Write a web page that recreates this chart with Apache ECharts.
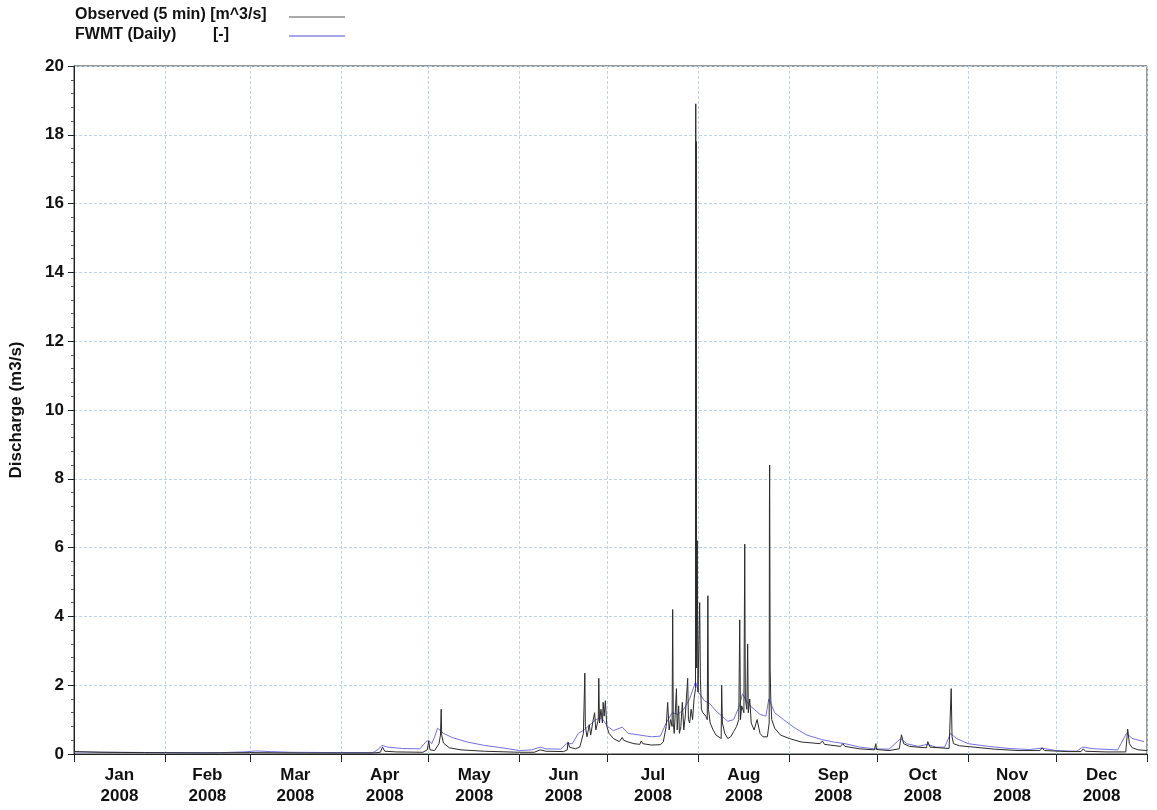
<!DOCTYPE html>
<html>
<head>
<meta charset="utf-8">
<script src="https://cdn.jsdelivr.net/npm/echarts@6/dist/echarts.min.js"></script>
<style>
  html, body { margin: 0; padding: 0; background: #fff; }
  #chart { width: 1157px; height: 810px; }
</style>
</head>
<body>
<div id="chart"></div>
<script>
// Discharge record for 2008: 5-minute observations and the daily FWMT model
const monthNames = ['Jan', 'Feb', 'Mar', 'Apr', 'May', 'Jun', 'Jul', 'Aug', 'Sep', 'Oct', 'Nov', 'Dec'];
const yearLabel = '2008';
const yTicks = [0, 2, 4, 6, 8, 10, 12, 14, 16, 18, 20];

// Observed (5 min) [m^3/s]
const obsTimes = [
  '2008-01-01 00:00', '2008-01-10 00:00', '2008-01-25 00:00', '2008-02-15 00:00', '2008-03-01 00:00',
  '2008-03-20 00:00', '2008-04-12 00:00', '2008-04-14 12:00', '2008-04-15 06:00', '2008-04-16 00:00',
  '2008-04-20 00:00', '2008-04-29 00:00', '2008-04-30 12:00', '2008-05-01 00:00', '2008-05-01 10:00',
  '2008-05-03 00:00', '2008-05-04 12:00', '2008-05-05 00:00', '2008-05-05 06:00', '2008-05-05 10:00',
  '2008-05-06 00:00', '2008-05-08 00:00', '2008-05-12 00:00', '2008-05-20 00:00', '2008-06-01 00:00',
  '2008-06-06 00:00', '2008-06-08 00:00', '2008-06-10 00:00', '2008-06-16 00:00', '2008-06-17 06:00',
  '2008-06-17 12:00', '2008-06-18 00:00', '2008-06-20 00:00', '2008-06-21 12:00', '2008-06-22 00:00',
  '2008-06-22 18:00', '2008-06-23 03:00', '2008-06-23 06:00', '2008-06-23 10:00', '2008-06-24 00:00',
  '2008-06-24 18:00', '2008-06-25 06:00', '2008-06-26 00:00', '2008-06-26 14:00', '2008-06-27 00:00',
  '2008-06-27 20:00', '2008-06-28 00:00', '2008-06-28 06:00', '2008-06-28 18:00', '2008-06-29 06:00',
  '2008-06-29 12:00', '2008-06-29 20:00', '2008-06-30 06:00', '2008-06-30 18:00', '2008-07-01 12:00',
  '2008-07-03 00:00', '2008-07-05 00:00', '2008-07-06 00:00', '2008-07-06 12:00', '2008-07-08 00:00',
  '2008-07-10 00:00', '2008-07-12 00:00', '2008-07-12 12:00', '2008-07-13 00:00', '2008-07-16 00:00',
  '2008-07-19 00:00', '2008-07-20 00:00', '2008-07-21 00:00', '2008-07-21 12:00', '2008-07-22 00:00',
  '2008-07-22 12:00', '2008-07-23 00:00', '2008-07-23 05:00', '2008-07-23 10:00', '2008-07-23 18:00',
  '2008-07-24 12:00', '2008-07-24 18:00', '2008-07-25 06:00', '2008-07-25 12:00', '2008-07-26 00:00',
  '2008-07-26 12:00', '2008-07-27 00:00', '2008-07-27 12:00', '2008-07-28 08:00', '2008-07-28 14:00',
  '2008-07-29 00:00', '2008-07-29 12:00', '2008-07-30 00:00', '2008-07-30 12:00', '2008-07-31 00:00',
  '2008-07-31 02:00', '2008-07-31 04:00', '2008-07-31 06:00', '2008-07-31 09:00', '2008-07-31 14:00',
  '2008-07-31 20:00', '2008-08-01 10:00', '2008-08-01 16:00', '2008-08-02 00:00', '2008-08-02 12:00',
  '2008-08-03 12:00', '2008-08-04 00:00', '2008-08-04 05:00', '2008-08-04 10:00', '2008-08-05 00:00',
  '2008-08-06 00:00', '2008-08-07 00:00', '2008-08-08 18:00', '2008-08-08 22:00', '2008-08-09 04:00',
  '2008-08-10 00:00', '2008-08-11 00:00', '2008-08-12 00:00', '2008-08-13 00:00', '2008-08-14 00:00',
  '2008-08-14 18:00', '2008-08-15 02:00', '2008-08-15 08:00', '2008-08-15 18:00', '2008-08-16 12:00',
  '2008-08-16 19:00', '2008-08-17 00:00', '2008-08-17 12:00', '2008-08-17 19:00', '2008-08-18 00:00',
  '2008-08-18 12:00', '2008-08-19 00:00', '2008-08-20 00:00', '2008-08-21 00:00', '2008-08-22 00:00',
  '2008-08-23 00:00', '2008-08-24 12:00', '2008-08-25 03:00', '2008-08-25 05:00', '2008-08-25 07:00',
  '2008-08-25 11:00', '2008-08-25 16:00', '2008-08-26 00:00', '2008-08-27 00:00', '2008-08-29 00:00',
  '2008-09-01 00:00', '2008-09-05 00:00', '2008-09-11 12:00', '2008-09-12 06:00', '2008-09-13 00:00',
  '2008-09-18 12:00', '2008-09-19 06:00', '2008-09-20 00:00', '2008-09-25 00:00', '2008-09-30 00:00',
  '2008-09-30 12:00', '2008-09-30 18:00', '2008-10-05 00:00', '2008-10-08 12:00', '2008-10-09 06:00',
  '2008-10-10 00:00', '2008-10-12 00:00', '2008-10-17 18:00', '2008-10-18 06:00', '2008-10-19 00:00',
  '2008-10-25 12:00', '2008-10-26 05:00', '2008-10-26 12:00', '2008-10-27 00:00', '2008-10-29 00:00',
  '2008-11-03 00:00', '2008-11-10 00:00', '2008-11-18 00:00', '2008-11-25 12:00', '2008-11-26 06:00',
  '2008-11-27 00:00', '2008-12-05 00:00', '2008-12-09 12:00', '2008-12-10 06:00', '2008-12-11 00:00',
  '2008-12-18 00:00', '2008-12-24 18:00', '2008-12-25 10:00', '2008-12-26 00:00', '2008-12-27 00:00',
  '2008-12-29 00:00', '2008-12-31 23:00'
];
const obsValues = [
  0.07, 0.05, 0.04, 0.03, 0.04,
  0.03, 0.03, 0.05, 0.20, 0.08,
  0.06, 0.05, 0.12, 0.38, 0.12,
  0.10, 0.30, 0.55, 1.30, 0.55,
  0.32, 0.18, 0.12, 0.08, 0.05,
  0.05, 0.12, 0.08, 0.07, 0.12,
  0.35, 0.20, 0.15, 0.20, 0.35,
  0.60, 0.55, 2.35, 0.80, 0.50,
  0.85, 0.55, 0.95, 1.20, 0.70,
  1.00, 2.20, 0.90, 1.30, 0.90,
  1.50, 1.10, 1.55, 0.80, 0.60,
  0.45, 0.36, 0.48, 0.40, 0.35,
  0.30, 0.28, 0.38, 0.30, 0.26,
  0.27, 0.35, 0.80, 1.50, 0.70,
  1.00, 0.80, 4.20, 0.90, 0.60,
  1.90, 0.70, 1.40, 0.60, 0.80,
  1.50, 0.70, 1.10, 2.20, 1.00,
  0.90, 1.30, 1.00, 1.60, 1.90,
  18.90, 3.00, 17.80, 2.50, 6.20,
  1.80, 4.40, 2.20, 1.30, 1.20,
  1.10, 1.00, 4.60, 1.30, 0.90,
  0.70, 0.55, 0.45, 2.00, 0.90,
  0.60, 0.45, 0.50, 0.65, 0.80,
  1.00, 3.90, 1.00, 1.40, 1.20,
  6.10, 1.60, 1.30, 3.20, 1.20,
  1.60, 0.90, 0.70, 1.00, 0.60,
  0.50, 0.50, 0.90, 7.20, 8.40,
  2.50, 1.60, 1.00, 0.75, 0.55,
  0.45, 0.35, 0.30, 0.38, 0.28,
  0.22, 0.30, 0.22, 0.15, 0.12,
  0.30, 0.13, 0.10, 0.15, 0.56,
  0.30, 0.22, 0.18, 0.36, 0.20,
  0.16, 1.90, 0.50, 0.30, 0.24,
  0.20, 0.14, 0.10, 0.10, 0.18,
  0.10, 0.07, 0.07, 0.15, 0.08,
  0.06, 0.06, 0.72, 0.30, 0.18,
  0.12, 0.10
];

// FWMT (Daily) [-]
const fwmtDates = [
  '2008-01-01', '2008-01-15', '2008-02-01', '2008-02-20', '2008-02-28', '2008-03-03', '2008-03-08',
  '2008-03-15', '2008-04-01', '2008-04-12', '2008-04-14', '2008-04-15', '2008-04-17', '2008-04-22',
  '2008-04-28', '2008-04-30', '2008-05-01', '2008-05-02', '2008-05-03', '2008-05-04', '2008-05-06',
  '2008-05-09', '2008-05-14', '2008-05-20', '2008-05-26', '2008-06-01', '2008-06-05', '2008-06-08',
  '2008-06-10', '2008-06-15', '2008-06-17', '2008-06-19', '2008-06-21', '2008-06-23', '2008-06-25',
  '2008-06-27', '2008-06-29', '2008-07-01', '2008-07-03', '2008-07-06', '2008-07-08', '2008-07-12',
  '2008-07-16', '2008-07-19', '2008-07-21', '2008-07-23', '2008-07-25', '2008-07-27', '2008-07-29',
  '2008-07-31', '2008-08-01', '2008-08-03', '2008-08-05', '2008-08-07', '2008-08-09', '2008-08-11',
  '2008-08-13', '2008-08-15', '2008-08-16', '2008-08-18', '2008-08-20', '2008-08-22', '2008-08-24',
  '2008-08-25', '2008-08-27', '2008-08-30', '2008-09-03', '2008-09-07', '2008-09-12', '2008-09-16',
  '2008-09-20', '2008-09-25', '2008-09-30', '2008-10-05', '2008-10-09', '2008-10-11', '2008-10-15',
  '2008-10-18', '2008-10-21', '2008-10-24', '2008-10-26', '2008-10-28', '2008-11-01', '2008-11-08',
  '2008-11-15', '2008-11-22', '2008-11-26', '2008-12-01', '2008-12-08', '2008-12-10', '2008-12-14',
  '2008-12-22', '2008-12-25', '2008-12-27', '2008-12-31'
];
const fwmtValues = [
  0.06, 0.05, 0.04, 0.04, 0.06, 0.09, 0.07,
  0.05, 0.04, 0.04, 0.15, 0.25, 0.20, 0.16,
  0.15, 0.35, 0.40, 0.30, 0.50, 0.75, 0.60,
  0.48, 0.35, 0.25, 0.18, 0.10, 0.12, 0.20,
  0.15, 0.14, 0.30, 0.30, 0.60, 0.70, 0.85,
  1.00, 1.05, 0.80, 0.68, 0.78, 0.60, 0.55,
  0.50, 0.52, 0.90, 1.20, 1.15, 1.30, 1.60,
  2.10, 1.80, 1.55, 1.45, 1.25, 1.10, 0.95,
  1.00, 1.40, 1.75, 1.45, 1.30, 1.15, 1.10,
  1.60, 1.20, 1.00, 0.75, 0.55, 0.42, 0.35,
  0.30, 0.20, 0.15, 0.14, 0.45, 0.30, 0.22,
  0.28, 0.20, 0.20, 0.60, 0.45, 0.30, 0.22,
  0.16, 0.13, 0.17, 0.10, 0.08, 0.20, 0.15,
  0.12, 0.60, 0.45, 0.36
];

// local-time parser for 'YYYY-MM-DD' and 'YYYY-MM-DD hh:mm'
function toTime(s) {
  const m = s.match(/^(\d{4})-(\d{2})-(\d{2})(?:[ T](\d{2}):(\d{2}))?$/);
  return new Date(+m[1], +m[2] - 1, +m[3], m[4] ? +m[4] : 0, m[5] ? +m[5] : 0).getTime();
}

const obsData = obsTimes.map((t, i) => [toTime(t), obsValues[i]]);
const fwmtData = fwmtDates.map((t, i) => [toTime(t), fwmtValues[i]]);

// month boundaries carry ticks and grid lines; labels sit mid-month
const monthStarts = [];
for (let m = 0; m <= 12; m++) monthStarts.push(new Date(2008, m, 1).getTime());
const monthMids = [];
for (let m = 0; m < 12; m++) monthMids.push((monthStarts[m] + monthStarts[m + 1]) / 2);

const FONT = 'Liberation Sans, Arial, sans-serif';
const gridColor = '#bdd5e6';

const chart = echarts.init(document.getElementById('chart'), null, { renderer: 'canvas' });
chart.setOption({
  animation: false,
  backgroundColor: '#ffffff',
  grid: {
    left: 74, right: 10, top: 66, bottom: 56,
    show: true, borderColor: '#333', borderWidth: 1, backgroundColor: 'transparent'
  },
  xAxis: {
    type: 'value',
    min: monthStarts[0],
    max: monthStarts[12],
    axisLine: { show: true, lineStyle: { color: '#222', width: 1 } },
    axisTick: { show: true, customValues: monthStarts, length: 8, lineStyle: { color: '#222' } },
    axisLabel: {
      show: true,
      customValues: monthMids,
      margin: 11,
      fontFamily: FONT, fontWeight: 'bold', fontSize: 17, color: '#111', lineHeight: 21,
      formatter: v => monthNames[new Date(v).getMonth()] + '\n' + yearLabel
    },
    splitLine: { show: true, lineStyle: { color: gridColor, width: 1, type: [3, 2] } }
  },
  yAxis: {
    type: 'value',
    min: yTicks[0],
    max: yTicks[yTicks.length - 1],
    interval: 2,
    name: 'Discharge (m3/s)',
    nameLocation: 'middle',
    nameRotate: 90,
    nameGap: 49,
    nameTextStyle: { fontFamily: FONT, fontWeight: 'bold', fontSize: 17, color: '#111' },
    axisLine: { show: true, lineStyle: { color: '#222', width: 1 } },
    axisTick: { show: true, inside: false, length: 6, lineStyle: { color: '#222' } },
    minorTick: { show: true, splitNumber: 5, length: 3, lineStyle: { color: '#555' } },
    axisLabel: {
      margin: 10,
      fontFamily: FONT, fontWeight: 'bold', fontSize: 17, color: '#111'
    },
    splitLine: { show: true, lineStyle: { color: gridColor, width: 1, type: [3, 2] } }
  },
  graphic: [
    { type: 'text', left: 75, top: 7, style: { text: 'Observed (5 min) [m^3/s]', font: 'bold 16px ' + FONT, fill: '#111' } },
    { type: 'text', left: 75, top: 27, style: { text: 'FWMT (Daily)', font: 'bold 16px ' + FONT, fill: '#111' } },
    { type: 'text', left: 213, top: 27, style: { text: '[-]', font: 'bold 16px ' + FONT, fill: '#111' } },
    { type: 'line', shape: { x1: 289, y1: 17, x2: 345, y2: 17 }, style: { stroke: '#555', lineWidth: 1 } },
    { type: 'line', shape: { x1: 289, y1: 36, x2: 345, y2: 36 }, style: { stroke: '#4d4dd4', lineWidth: 1 } }
  ],
  series: [
    {
      name: 'FWMT (Daily)',
      type: 'line',
      data: fwmtData,
      showSymbol: false,
      symbol: 'none',
      lineStyle: { color: '#7272dc', width: 1 },
      z: 2
    },
    {
      name: 'Observed (5 min)',
      type: 'line',
      data: obsData,
      showSymbol: false,
      symbol: 'none',
      lineStyle: { color: '#2b2b2b', width: 1 },
      z: 3
    }
  ]
});
</script>
</body>
</html>
